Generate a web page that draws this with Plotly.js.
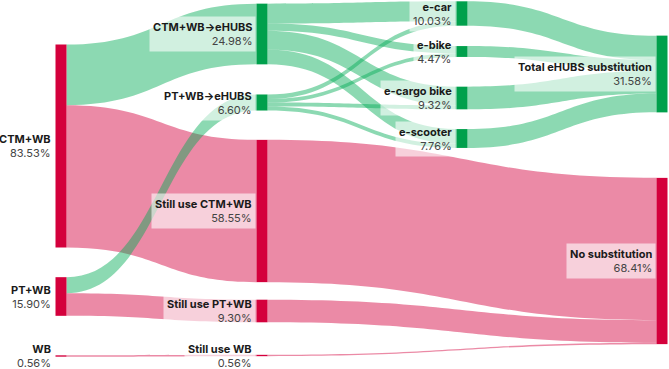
<!DOCTYPE html>
<html>
<head>
<meta charset="utf-8">
<script src="https://cdn.plot.ly/plotly-3.0.1.min.js"></script>
<style>html,body{margin:0;padding:0;background:#fff;}#chart{width:669px;height:369px;}</style>
</head>
<body>
<div id="chart"></div>
<script>
// ---- data ----
const nodeLabels = [
  "CTM+WB", "PT+WB", "WB",
  "CTM+WB→eHUBS", "PT+WB→eHUBS", "Still use CTM+WB", "Still use PT+WB", "Still use WB",
  "e-car", "e-bike", "e-cargo bike", "e-scooter",
  "Total eHUBS substitution", "No substitution"
];
const linkSource = [0, 0, 1, 1, 2, 5, 6, 7, 3, 3, 3, 3, 4, 4, 4, 4, 8, 9, 10, 11];
const linkTarget = [5, 3, 6, 4, 7, 13, 13, 13, 8, 9, 10, 11, 8, 9, 10, 11, 12, 12, 12, 12];
const linkValue  = [58.55, 24.98, 9.30, 6.60, 0.56, 58.55, 9.30, 0.56,
                    8.20, 2.97, 7.72, 6.09, 1.83, 1.50, 1.60, 1.67,
                    10.03, 4.47, 9.32, 7.76];
const nodeGroup = ["red","red","red","green","green","red","red","red",
                   "green","green","green","green","green","red"];

// ---- layout (pixel centres in a 669x369 plot) ----
const W = 669, H = 369;
const nodePxX = [61, 61, 61, 262, 262, 262, 262, 262, 462, 462, 462, 462, 662, 662];
const nodePxY = [146, 296.5, 356, 34, 102.5, 211, 311, 355.5, 13.5, 51.5, 98, 138.5, 74, 261];
const thickness = 11;

const COL = {
  red: "#d4003c", green: "#00a04c",
  redLink: "rgba(212,0,60,0.46)", greenLink: "rgba(0,170,85,0.45)"
};

const nodeX = nodePxX.map(v => v / W);
const nodeY = nodePxY.map(v => v / H);

const inSum = nodeLabels.map(() => 0), outSum = nodeLabels.map(() => 0);
linkValue.forEach((v, i) => { outSum[linkSource[i]] += v; inSum[linkTarget[i]] += v; });
const nodeValue = nodeLabels.map((_, i) => Math.max(inSum[i], outSum[i]));

const linkColors = linkTarget.map(t => nodeGroup[t] === "green" ? COL.greenLink : COL.redLink);

const trace = {
  type: "sankey",
  arrangement: "fixed",
  hoverinfo: "none",
  node: {
    label: nodeLabels.map(() => ""),
    x: nodeX, y: nodeY,
    pad: 31.5,
    thickness: thickness,
    color: nodeGroup.map(g => COL[g]),
    line: {width: 0},
    hoverinfo: "none"
  },
  link: {
    source: linkSource, target: linkTarget, value: linkValue,
    color: linkColors,
    line: {width: 0},
    hoverinfo: "none"
  }
};

const annotations = nodeLabels.map((lab, i) => ({
  xref: "paper", yref: "paper",
  x: nodeX[i], y: 1 - nodeY[i],
  xshift: -(thickness / 2 + 0.3),
  xanchor: "right", yanchor: "middle", align: "right",
  showarrow: false,
  text: "<b>" + lab + "</b><br><span style=\"color:#444\">" + nodeValue[i].toFixed(2) + "%</span>",
  font: {family: "Inter, 'Noto Sans', sans-serif", size: 11, color: "#1a1a1a"},
  bgcolor: "rgba(255,255,255,0.6)",
  borderpad: 3
}));

Plotly.newPlot("chart", [trace], {
  width: W, height: H,
  margin: {l: 0, r: 0, t: 0, b: 0},
  paper_bgcolor: "#fff",
  font: {family: "Inter, sans-serif", size: 11},
  annotations: annotations
}, {displayModeBar: false, staticPlot: true});
</script>
</body>
</html>
